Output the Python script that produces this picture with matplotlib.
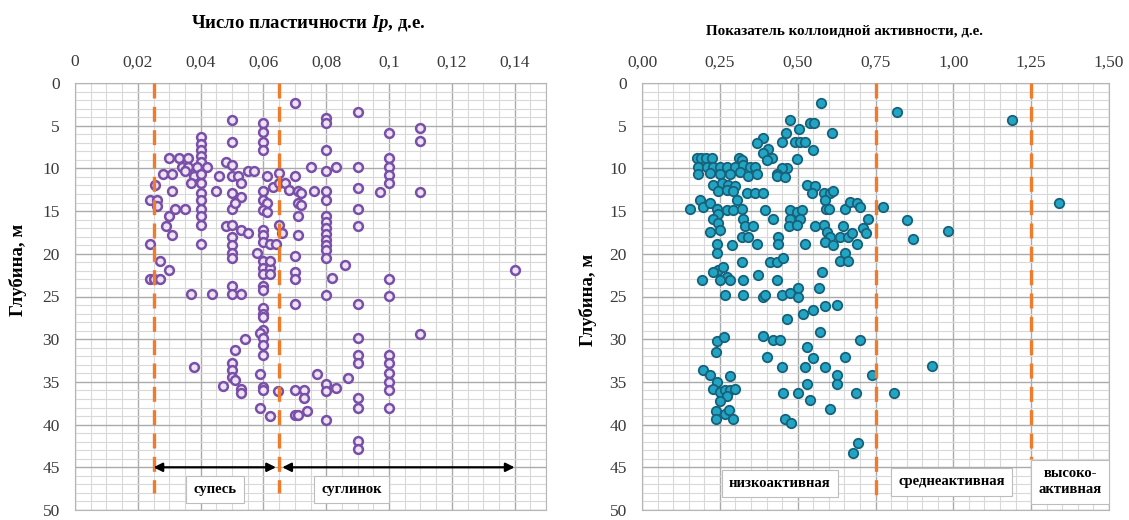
import matplotlib
matplotlib.use("Agg")
import matplotlib.pyplot as plt
from matplotlib.ticker import MultipleLocator

plt.rcParams['font.family'] = ['Liberation Serif', 'DejaVu Serif']
plt.rcParams['mathtext.fontset'] = 'custom'
plt.rcParams['mathtext.it'] = 'Liberation Serif:italic:bold'
plt.rcParams['mathtext.rm'] = 'Liberation Serif:bold'

W, H = 1129, 520

# ---------------- данные: число пластичности Ip ----------------
ip_x = [
    0.070, 0.090, 0.050, 0.060, 0.060, 0.060, 0.060, 0.080, 0.080, 0.080,
    0.100, 0.110, 0.110, 0.050, 0.040, 0.040, 0.040, 0.040, 0.040,
    0.030, 0.033, 0.036, 0.034, 0.036, 0.039, 0.042,
    0.028, 0.031, 0.035, 0.038, 0.040, 0.037, 0.040,
    0.048, 0.050, 0.046, 0.050, 0.052, 0.055, 0.057, 0.053,
    0.061, 0.065, 0.063, 0.065, 0.070, 0.075, 0.080, 0.083, 0.090,
    0.100, 0.100, 0.100, 0.100, 0.090, 0.097, 0.110, 0.090, 0.090,
    0.0255, 0.024, 0.026, 0.026, 0.031, 0.030, 0.029, 0.031, 0.032, 0.035,
    0.040, 0.040, 0.040, 0.040, 0.040, 0.040, 0.045,
    0.050, 0.053, 0.050, 0.051,
    0.060, 0.060, 0.061, 0.060, 0.061,
    0.067, 0.068, 0.071, 0.072, 0.071, 0.072, 0.071,
    0.076, 0.080, 0.080,
    0.048, 0.050, 0.053, 0.055, 0.050, 0.050, 0.050, 0.050,
    0.060, 0.060, 0.060, 0.062, 0.064, 0.065, 0.066, 0.071,
    0.080, 0.080, 0.080, 0.080, 0.080, 0.080, 0.080, 0.080,
    0.086, 0.058, 0.024, 0.027, 0.030, 0.024, 0.025, 0.027,
    0.060, 0.060, 0.062, 0.062, 0.070, 0.070, 0.082, 0.060, 0.062, 0.070,
    0.140, 0.100, 0.100, 0.037, 0.0435, 0.050, 0.050, 0.053, 0.060, 0.060,
    0.070, 0.080, 0.090, 0.060, 0.060, 0.060,
    0.060, 0.059, 0.060, 0.060, 0.060, 0.054, 0.051,
    0.110, 0.090, 0.090, 0.090, 0.038,
    0.050, 0.050, 0.050, 0.051, 0.053, 0.053, 0.047,
    0.059, 0.060, 0.060, 0.059, 0.062, 0.0646,
    0.070, 0.073, 0.073, 0.074, 0.070, 0.071,
    0.077, 0.080, 0.080, 0.083, 0.080, 0.087,
    0.090, 0.090, 0.090, 0.090,
    0.100, 0.100, 0.100, 0.100, 0.100, 0.100,
]
ip_depth = [
    2.4, 3.4, 4.3, 4.7, 5.7, 6.9, 7.8, 4.1, 4.7, 7.8,
    5.8, 5.3, 6.8, 6.9, 6.3, 7.1, 7.8, 8.6, 9.2,
    8.8, 8.8, 8.8, 9.8, 9.8, 9.8, 9.8,
    10.7, 10.7, 10.3, 10.9, 10.6, 11.7, 11.7,
    9.2, 9.6, 10.9, 10.9, 10.9, 10.3, 10.3, 11.7,
    10.9, 10.5, 12.2, 11.7, 10.9, 9.8, 10.3, 9.8, 9.8,
    8.8, 9.8, 10.8, 11.7, 12.3, 12.8, 12.8, 14.8, 16.8,
    11.9, 13.7, 13.7, 14.4, 12.7, 15.6, 16.8, 17.8, 14.8, 14.8,
    12.9, 13.7, 14.7, 15.6, 16.6, 18.9, 12.7,
    12.9, 13.3, 14.7, 14.0,
    12.7, 13.7, 14.1, 14.9, 15.1,
    11.7, 12.5, 12.7, 12.9, 14.1, 14.3, 15.6,
    12.7, 12.7, 13.7,
    16.8, 16.6, 17.2, 17.6, 18.0, 19.0, 19.9, 20.5,
    17.2, 17.8, 18.6, 18.9, 18.9, 16.6, 17.6, 17.8,
    15.6, 16.3, 17.0, 17.7, 18.4, 19.0, 19.6, 20.5,
    21.3, 19.9, 18.9, 20.8, 21.9, 22.9, 22.9, 22.9,
    20.8, 21.7, 21.7, 20.8, 20.2, 22.1, 22.8, 22.4, 22.4, 22.9,
    21.9, 23.0, 24.9, 24.7, 24.7, 23.8, 24.7, 24.7, 23.8, 24.2,
    25.9, 24.8, 25.9, 26.4, 27.0, 27.4,
    28.9, 29.3, 29.9, 30.7, 31.9, 30.0, 31.3,
    29.4, 29.9, 31.9, 32.8, 33.3,
    32.8, 33.6, 34.4, 34.8, 35.8, 36.3, 35.5,
    34.1, 35.6, 35.9, 38.0, 39.0, 36.1,
    35.9, 35.9, 36.9, 38.4, 38.9, 38.9,
    34.1, 35.2, 36.1, 35.7, 39.5, 34.5,
    36.9, 38.1, 41.9, 42.9,
    31.9, 32.8, 33.9, 35.0, 35.9, 38.0,
]

# ---------------- данные: показатель коллоидной активности ----------------
ka_x = [
    0.574, 0.818, 0.475, 0.540, 0.553, 0.505, 0.609, 0.463, 1.190,
    0.390, 0.368, 0.449, 0.490, 0.508, 0.524, 0.550,
    0.406, 0.390, 0.417, 0.400, 0.497,
    0.465, 0.449, 0.433, 0.433, 0.460,
    0.176, 0.190, 0.207, 0.224, 0.310, 0.320,
    0.181, 0.208, 0.229, 0.251, 0.272, 0.299, 0.325, 0.347, 0.363,
    0.181, 0.218, 0.251, 0.283, 0.315, 0.342, 0.369,
    0.229, 0.256, 0.277, 0.299, 0.245, 0.272, 0.293,
    0.336, 0.363, 0.390, 0.304,
    0.154, 0.186, 0.197, 0.218, 0.240, 0.272, 0.293, 0.320, 0.245,
    0.229, 0.245, 0.218, 0.250,
    0.325, 0.331, 0.358, 0.320, 0.342,
    0.240, 0.240, 0.288, 0.368,
    0.395, 0.422, 0.438, 0.438,
    0.475, 0.497, 0.513, 0.475, 0.507, 0.473, 0.497, 0.524,
    0.530, 0.556, 0.545, 0.583, 0.604, 0.615, 0.588, 0.590, 0.600,
    0.556, 0.583, 0.593, 0.604, 0.588, 0.615,
    0.647, 0.636, 0.663, 0.673, 0.652, 0.668, 0.690, 0.700,
    0.727, 0.710, 0.720, 0.690, 0.652, 0.636, 0.663,
    0.775, 0.852, 0.870, 0.982, 1.341,
    0.245, 0.261, 0.229, 0.272, 0.250, 0.283, 0.192,
    0.320, 0.325, 0.373, 0.411, 0.433, 0.454, 0.433, 0.577,
    0.267, 0.325, 0.390, 0.395, 0.449, 0.475, 0.502, 0.502, 0.569,
    0.465, 0.518, 0.550, 0.588, 0.625,
    0.572, 0.390, 0.422, 0.443, 0.529, 0.400, 0.449,
    0.524, 0.550, 0.588, 0.652, 0.700,
    0.625, 0.625, 0.738, 0.529,
    0.454, 0.502, 0.540, 0.604, 0.688, 0.810,
    0.460, 0.480, 0.695, 0.679,
    0.240, 0.263, 0.238,
    0.197, 0.218, 0.283, 0.240, 0.229, 0.250, 0.267, 0.283, 0.299, 0.272, 0.250,
    0.238, 0.238, 0.267, 0.280, 0.293,
    0.933,
]
ka_depth = [
    2.4, 3.4, 4.3, 4.7, 4.7, 5.4, 5.8, 5.8, 4.3,
    6.4, 7.0, 6.9, 6.9, 6.9, 6.9, 7.8,
    7.7, 8.2, 8.8, 9.0, 8.9,
    9.9, 10.0, 10.6, 10.9, 11.0,
    8.8, 8.8, 8.8, 8.8, 8.8, 9.0,
    9.8, 9.8, 9.8, 9.8, 9.8, 9.8, 9.6, 9.8, 9.8,
    10.7, 10.5, 10.7, 10.7, 10.4, 10.9, 10.7,
    11.9, 11.7, 11.9, 12.1, 12.7, 12.5, 12.7,
    12.9, 12.9, 12.9, 13.7,
    14.7, 13.7, 14.5, 14.1, 14.7, 14.9, 14.9, 14.8, 15.3,
    15.9, 16.4, 17.4, 17.2,
    15.9, 16.8, 16.8, 18.0, 18.0,
    18.8, 19.9, 19.0, 18.9,
    14.9, 15.9, 18.0, 18.9,
    14.9, 15.1, 14.9, 15.9, 15.9, 16.8, 16.6, 18.9,
    11.9, 12.1, 12.9, 12.9, 12.9, 12.7, 13.7, 14.7, 14.7,
    16.8, 16.6, 17.4, 18.0, 18.6, 19.0,
    16.8, 18.0, 18.0, 17.6, 14.7, 13.9, 14.1, 14.5,
    15.9, 17.0, 17.6, 18.9, 19.9, 20.9, 20.9,
    14.5, 16.0, 18.3, 17.3, 14.0,
    21.9, 21.5, 22.1, 22.7, 23.1, 23.1, 23.1,
    21.0, 23.1, 22.5, 21.0, 21.0, 20.5, 23.1, 22.1,
    24.8, 24.8, 25.0, 24.8, 24.8, 24.6, 24.0, 25.0, 24.0,
    27.6, 27.0, 26.6, 26.1, 26.0,
    29.1, 29.6, 30.1, 30.1, 30.9, 32.1, 33.2,
    33.2, 32.2, 33.2, 32.1, 30.1,
    34.2, 35.2, 34.2, 35.2,
    36.3, 36.3, 37.1, 38.2, 36.3, 36.3,
    39.3, 39.8, 42.2, 43.3,
    30.2, 29.7, 31.5,
    33.6, 34.2, 34.3, 35.0, 35.8, 36.2, 36.0, 36.0, 35.8, 36.7, 37.2,
    38.4, 39.3, 38.8, 38.3, 39.3,
    33.1,
]

ip_ticks = [0, 0.02, 0.04, 0.06, 0.08, 0.10, 0.12, 0.14]
ip_ticklabels = ["0", "0,02", "0,04", "0,06", "0,08", "0,1", "0,12", "0,14"]
ka_ticks = [0, 0.25, 0.50, 0.75, 1.00, 1.25, 1.50]
ka_ticklabels = ["0,00", "0,25", "0,50", "0,75", "1,00", "1,25", "1,50"]
depth_ticks = [0, 5, 10, 15, 20, 25, 30, 35, 40, 45, 50]

ip_bounds = [0.025, 0.065]
ka_bounds = [0.75, 1.25]

ORANGE = "#f07b2b"


def px(x, y):
    return x / W, 1 - y / H


def setup(ax, xmax, xminor, ticks, labels):
    ax.set_xlim(0, xmax)
    ax.set_ylim(50, 0)
    ax.xaxis.tick_top()
    ax.set_xticks(ticks)
    ax.set_xticklabels(labels)
    ax.xaxis.set_minor_locator(MultipleLocator(xminor))
    ax.set_yticks(depth_ticks)
    ax.yaxis.set_minor_locator(MultipleLocator(1))
    ax.grid(which='minor', color='#d9d9d9', lw=0.8)
    ax.grid(which='major', color='#ababab', lw=1.0)
    ax.set_axisbelow(True)
    ax.tick_params(which='both', length=0, labelsize=12.5, colors='#3a3a3a')
    ax.tick_params(axis='x', pad=9)
    ax.tick_params(axis='y', pad=11)
    for s in ax.spines.values():
        s.set_color('#b5b5b5')


fig = plt.figure(figsize=(W / 100, H / 100), dpi=100)

# ---------------- левый график ----------------
ax1 = fig.add_axes([75 / W, 1 - 510 / H, 471 / W, 427 / H])
setup(ax1, 0.15, 0.005, ip_ticks, ip_ticklabels)
ax1.scatter(ip_x, ip_depth, s=40, facecolors='#ece4f5', edgecolors='#7a4fa8',
            linewidths=1.8, zorder=3)
for b in ip_bounds:
    ax1.plot([b, b], [0, 48], color=ORANGE, lw=2.4, dashes=(4.5, 2.5), zorder=4)

arrow = dict(arrowstyle='<|-|>', color='black', lw=1.6, mutation_scale=13,
             shrinkA=0, shrinkB=0)
ax1.annotate('', xy=(0.025, 45), xytext=(0.064, 45), arrowprops=arrow, zorder=5)
ax1.annotate('', xy=(0.066, 45), xytext=(0.14, 45), arrowprops=arrow, zorder=5)

box = dict(boxstyle='square,pad=0.5', fc='white', ec='#bdbdbd', lw=0.8)
ax1.text(0.0445, 47.6, 'супесь', ha='center', va='center', fontsize=10.5,
         fontweight='bold', bbox=box, zorder=6)
ax1.text(0.088, 47.6, 'суглинок', ha='center', va='center', fontsize=10.5,
         fontweight='bold', bbox=box, zorder=6)

# ---------------- правый график ----------------
ax2 = fig.add_axes([642 / W, 1 - 510 / H, 467 / W, 427 / H])
setup(ax2, 1.5, 0.05, ka_ticks, ka_ticklabels)
ax2.scatter(ka_x, ka_depth, s=46, facecolors='#22a5c3', edgecolors='#17617b',
            linewidths=1.3, zorder=3)
ax2.plot([ka_bounds[0]] * 2, [0, 48.5], color=ORANGE, lw=2.4, dashes=(4.5, 2.5), zorder=4)
ax2.plot([ka_bounds[1]] * 2, [0, 44], color=ORANGE, lw=2.4, dashes=(4.5, 2.5), zorder=4)

ax2.text(0.443, 46.9, 'низкоактивная', ha='center', va='center', fontsize=10.5,
         fontweight='bold', bbox=box, zorder=6)
ax2.text(0.995, 46.7, 'среднеактивная', ha='center', va='center', fontsize=10.5,
         fontweight='bold', bbox=box, zorder=6)
ax2.text(1.375, 46.7, 'высоко-\nактивная', ha='center', va='center', fontsize=10.5,
         fontweight='bold', bbox=box, zorder=6, linespacing=1.3)

# ---------------- подписи ----------------
fig.text(*px(308, 23), 'Число пластичности $\\mathit{Ip}$, д.е.', ha='center', va='center',
         fontsize=13.5, fontweight='bold')
fig.text(*px(844, 31), 'Показатель коллоидной активности, д.е.', ha='center', va='center',
         fontsize=10.8, fontweight='bold')
fig.text(*px(18, 270), 'Глубина, м', rotation=90, ha='center', va='center',
         fontsize=13.5, fontweight='bold')
fig.text(*px(588, 300), 'Глубина, м', rotation=90, ha='center', va='center',
         fontsize=13.5, fontweight='bold')

fig.savefig('out.png', dpi=100)
